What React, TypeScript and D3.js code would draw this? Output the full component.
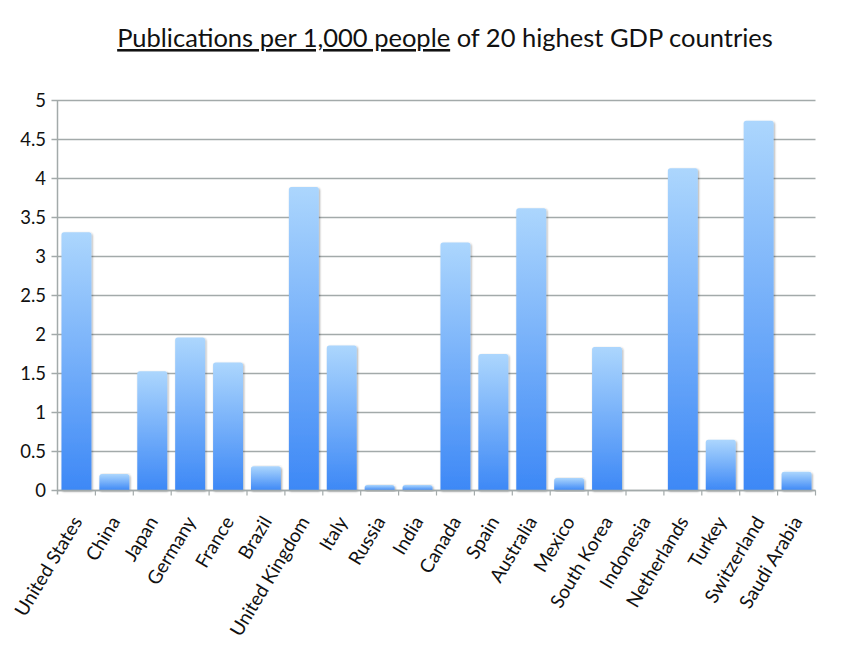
import React from "react";
import * as d3 from "d3";

const countries = [
  "United States", "China", "Japan", "Germany", "France", "Brazil",
  "United Kingdom", "Italy", "Russia", "India", "Canada", "Spain",
  "Australia", "Mexico", "South Korea", "Indonesia", "Netherlands",
  "Turkey", "Switzerland", "Saudi Arabia",
];
const publications = [
  3.31, 0.21, 1.53, 1.96, 1.64, 0.31, 3.89, 1.86, 0.07, 0.07,
  3.18, 1.75, 3.62, 0.16, 1.84, 0, 4.13, 0.65, 4.74, 0.24,
];
const yTicks = [0, 0.5, 1, 1.5, 2, 2.5, 3, 3.5, 4, 4.5, 5];

const W = 841;
const H = 672;
const left = 57.5;
const right = 815.5;
const top = 100.5;
const bottom = 490.5;
const FONT = "Lato, 'Open Sans', sans-serif";
const GRID = "#a3aaaa";

export default function App() {
  const x = d3.scaleBand<string>().domain(countries).range([left, right]).paddingInner(0.21).paddingOuter(0.105);
  const xb = d3.scaleBand<string>().domain(countries).range([left, right]);
  const y = d3.scaleLinear().domain([0, 5]).range([bottom, top]);

  return (
    <svg width={W} height={H} style={{ position: "absolute", left: 0, top: 0, background: "#fff" }}>
      <defs>
        <linearGradient id="barGrad" x1="0" y1="0" x2="0" y2="1">
          <stop offset="0%" stopColor="#acd6fd" />
          <stop offset="100%" stopColor="#3d88f6" />
        </linearGradient>
        <filter id="shadow" x="-20%" y="-5%" width="150%" height="115%">
          <feGaussianBlur in="SourceAlpha" stdDeviation="1.2" />
          <feOffset dx="1.2" dy="0.5" result="b" />
          <feComponentTransfer>
            <feFuncA type="linear" slope="0.35" />
          </feComponentTransfer>
          <feMerge>
            <feMergeNode />
            <feMergeNode in="SourceGraphic" />
          </feMerge>
        </filter>
      </defs>

      <text x={445} y={47} textAnchor="middle" fontFamily={FONT} fontSize={25.5} fill="#111">
        <tspan textDecoration="underline">Publications per 1,000 people</tspan>
        <tspan> of 20 highest GDP countries</tspan>
      </text>

      {yTicks.map((t) => (
        <g key={t}>
          <line x1={left - 6} x2={right} y1={y(t)} y2={y(t)} stroke={GRID} strokeWidth={1.5} />
          <text x={46} y={y(t) + 6.5} textAnchor="end" fontFamily={FONT} fontSize={18.5} fill="#111">
            {d3.format("")(t)}
          </text>
        </g>
      ))}

      {countries.map((c, i) => {
        const v = publications[i];
        if (v <= 0) return null;
        const bx = x(c)!;
        const bw = x.bandwidth();
        const by = y(v);
        const bh = bottom - by;
        const r = Math.min(2.5, bh / 2);
        const path = `M${bx},${bottom} L${bx},${by + r} Q${bx},${by} ${bx + r},${by} L${bx + bw - r},${by} Q${bx + bw},${by} ${bx + bw},${by + r} L${bx + bw},${bottom} Z`;
        return (
          <path key={c} d={path} fill="url(#barGrad)" filter="url(#shadow)" />
        );
      })}

      <line x1={left} x2={left} y1={top} y2={bottom + 4} stroke={GRID} strokeWidth={1.5} />
      <line x1={left} x2={right} y1={bottom} y2={bottom} stroke={GRID} strokeWidth={1.5} />
      {countries.map((c) => (
        <line key={c} x1={xb(c)! + xb.bandwidth()} x2={xb(c)! + xb.bandwidth()} y1={bottom} y2={bottom + 5} stroke={GRID} strokeWidth={1.2} />
      ))}

      {countries.map((c) => {
        const cx = xb(c)! + xb.bandwidth() / 2 + 6.5;
        const cy = bottom + 31;
        return (
          <text key={c} x={cx} y={cy} transform={`rotate(-59, ${cx}, ${cy})`} textAnchor="end" fontFamily={FONT} fontSize={19} fill="#111">
            {c}
          </text>
        );
      })}
    </svg>
  );
}
